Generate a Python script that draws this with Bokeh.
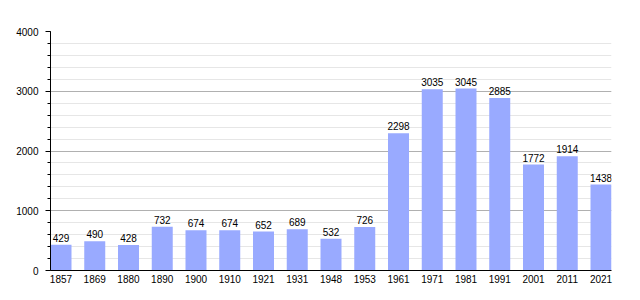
from bokeh.plotting import figure
from bokeh.models import ColumnDataSource, FixedTicker, Range1d
from bokeh.embed import file_html
from bokeh.resources import INLINE
from bokeh.core.properties import value

years = ["1857", "1869", "1880", "1890", "1900", "1910", "1921", "1931", "1948", "1953",
         "1961", "1971", "1981", "1991", "2001", "2011", "2021"]
population = [429, 490, 428, 732, 674, 674, 652, 689, 532, 726,
              2298, 3035, 3045, 2885, 1772, 1914, 1438]
y_ticks = [0, 1000, 2000, 3000, 4000]
y_minor = [v for v in range(0, 4001, 200)]

xs = list(range(len(years)))
bar_w = 0.622
src = ColumnDataSource(dict(x=xs, y=population, label=[str(v) for v in population]))

p = figure(width=640, height=300,
           x_range=Range1d(-bar_w / 2, len(years) - 1 + bar_w / 2),
           y_range=Range1d(0, 4000), output_backend="svg", toolbar_location=None,
           min_border_left=50, min_border_right=29, min_border_top=31, min_border_bottom=30)
p.outline_line_color = None
p.background_fill_color = "white"

p.vbar(x="x", top="y", width=bar_w, source=src, fill_color="#99aaff", line_color=None)
p.text(x="x", y="y", text="label", source=src, text_align="center", text_baseline="bottom",
       y_offset=-3, text_font=value("Liberation Sans"), text_font_size="10px", text_color="black")

p.yaxis.ticker = FixedTicker(ticks=y_ticks, minor_ticks=y_minor)
p.ygrid.ticker = FixedTicker(ticks=y_ticks, minor_ticks=y_minor)
p.ygrid.grid_line_color = "#b0b0b0"
p.ygrid.minor_grid_line_color = "#e6e6e6"
p.xgrid.grid_line_color = None

p.xaxis.ticker = FixedTicker(ticks=xs, minor_ticks=[])
p.xaxis.major_label_overrides = {i: y for i, y in enumerate(years)}

for ax in (p.xaxis, p.yaxis):
    ax.axis_line_color = "black"
    ax.axis_line_width = 1
    ax.major_label_text_font = "Liberation Sans"
    ax.major_label_text_font_size = "10px"
    ax.major_label_text_color = "black"

p.yaxis.major_tick_out = 5
p.yaxis.major_tick_in = 0
p.yaxis.minor_tick_out = 3
p.yaxis.minor_tick_in = 0
p.yaxis.major_tick_line_color = "black"
p.yaxis.minor_tick_line_color = "black"
p.yaxis.major_label_standoff = 7

p.xaxis.major_tick_line_color = None
p.xaxis.minor_tick_line_color = None
p.xaxis.major_tick_out = 0
p.xaxis.major_tick_in = 0
p.xaxis.major_label_standoff = 4

open("out.html", "w").write(file_html(p, INLINE))
